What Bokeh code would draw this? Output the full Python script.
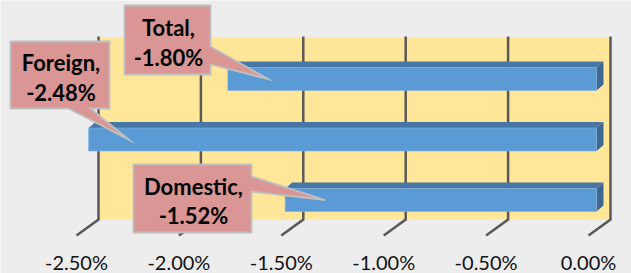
from bokeh.plotting import figure
from bokeh.models import Range1d
from bokeh.embed import file_html
from bokeh.resources import INLINE
from bokeh.core.properties import value

# ---- data ----
categories = ["Total", "Foreign", "Domestic"]
values = [-1.80, -2.48, -1.52]
tick_values = [-2.5, -2.0, -1.5, -1.0, -0.5, 0.0]
tick_labels = ["-2.50%", "-2.00%", "-1.50%", "-1.00%", "-0.50%", "0.00%"]

# ---- layout (page pixels) ----
W, H = 631, 273
PPU = 204.8          # pixels per 1 percentage point
ZERO_PX = 596        # page x of 0% on bar front faces
def v2px(v):
    return ZERO_PX + v * PPU
def px2v(px):
    return (px - ZERO_PX) / PPU

BACK = 14 / PPU      # back wall offset (data units)
FLOOR = -8 / PPU     # floor front offset
DX = 7 / PPU         # bar depth in x
DY = 6               # bar depth in y (px)
row_y = [78.5, 139.0, 199.5]
half_h = 11.5

p = figure(width=W, height=H, output_backend="svg", toolbar_location=None,
           x_range=Range1d(px2v(0), px2v(W)), y_range=Range1d(H, 0),
           min_border=0, background_fill_color="#EDEDED", border_fill_color="#EDEDED",
           outline_line_color=None)
p.axis.visible = False
p.grid.visible = False

# back wall
p.quad(left=[tick_values[0] + BACK], right=[tick_values[-1] + BACK], top=[37], bottom=[219],
       fill_color="#FFE699", line_color=None)

# gridlines (back wall + floor diagonal)
gx, gy = [], []
for t in tick_values:
    gx.append([t + BACK, t + BACK, t + FLOOR])
    gy.append([36, 219, 235])
p.multi_line(gx, gy, line_color="#595959", line_width=2.5, line_join="miter")

# bars (3D)
top_xs, top_ys, side_xs, side_ys = [], [], [], []
for v, yc in zip(values, row_y):
    yt, yb = yc - half_h, yc + half_h
    top_xs.append([v, 0, 0 + DX, v + DX])
    top_ys.append([yt, yt, yt - DY, yt - DY])
    side_xs.append([0, 0 + DX, 0 + DX, 0])
    side_ys.append([yt, yt - DY, yb - DY, yb])
p.patches(top_xs, top_ys, fill_color="#4677A7", line_color=None)
p.patches(side_xs, side_ys, fill_color="#3C6893", line_color=None)
p.quad(left=values, right=[0] * len(values),
       top=[y - half_h for y in row_y], bottom=[y + half_h for y in row_y],
       fill_color="#5B9BD5", line_color="#7FAEDD", line_width=0.6)

# callouts: box (left, right, top, bottom) and wedge base points, page px
boxes = [(124, 210, 5, 74), (10, 109, 41, 108), (133, 251, 164, 232)]
wedges = [("right", 46, 64), ("bottom", 90, 68), ("right", 176, 191)]
cxs, cys = [], []
for (l, r, t, b), (side, a1, a2), v, yc in zip(boxes, wedges, values, row_y):
    tip = (px2v(v2px(v) + 40), yc)
    if side == "right":
        pts = [(l, t), (r, t), (r, a1), None, (r, a2), (r, b), (l, b)]
    else:
        pts = [(l, t), (r, t), (r, b), (a1, b), None, (a2, b), (l, b)]
    xs, ys = [], []
    for pt in pts:
        if pt is None:
            xs.append(tip[0]); ys.append(tip[1])
        else:
            xs.append(px2v(pt[0])); ys.append(pt[1])
    cxs.append(xs); cys.append(ys)
p.patches(cxs, cys, fill_color="#D99694", line_color="#BFBFBF", line_width=1.8,
          line_join="miter")

tx, ty, tt = [], [], []
for (l, r, t, b), name, v in zip(boxes, categories, values):
    cx = px2v((l + r) / 2 + 1)
    cy = (t + b) / 2
    tx += [cx, cx]
    ty += [cy - 12.5, cy + 17]
    tt += [name + ",", "%.2f%%" % v]
p.text(tx, ty, text=tt, text_font=value("Lato"), text_font_style="bold",
       text_font_size="22px", text_align="center", text_baseline="middle",
       text_color="#000000")

# tick labels
p.text([t + FLOOR for t in tick_values], [261] * len(tick_values), text=tick_labels,
       text_font=value("Lato"), text_font_size="20px", text_align="center",
       text_baseline="middle", text_color="#111111")

html = file_html(p, INLINE)
html = html.replace("<body>", '<body style="background-color:#EDEDED;">', 1)
open("out.html", "w").write(html)
